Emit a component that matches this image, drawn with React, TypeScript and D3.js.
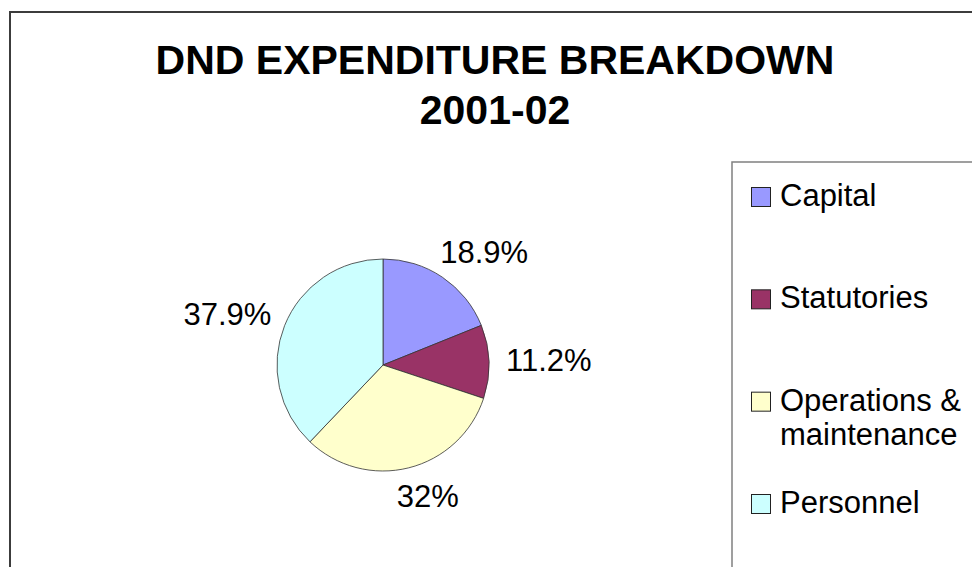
import React, { useEffect, useRef } from "react"
import * as d3 from "d3"

const categories = ["Capital", "Statutories", "Operations & maintenance", "Personnel"]
const legendLines = [["Capital"], ["Statutories"], ["Operations &", "maintenance"], ["Personnel"]]
const shares = [18.9, 11.2, 32, 37.9]
const shareLabels = ["18.9%", "11.2%", "32%", "37.9%"]
const colors = ["#9999FF", "#993366", "#FFFFCC", "#CCFFFF"]
const titleLines = ["DND EXPENDITURE BREAKDOWN", "2001-02"]

const FONT = "'Liberation Sans', Arial, sans-serif"

// rough Arial advance widths, to push labels out of the pie like Excel does
const charW = (c: string) => (c === "%" ? 0.889 : c === "." ? 0.278 : 0.556)
const textWidth = (s: string, size: number) =>
  s.split("").reduce((a, c) => a + charW(c), 0) * size

export default function App() {
  const ref = useRef<SVGSVGElement>(null)

  useEffect(() => {
    const svg = d3.select(ref.current)
    svg.selectAll("*").remove()
    const width = 972
    const height = 567

    svg.append("rect")
      .attr("width", width).attr("height", height)
      .attr("fill", "#fff")

    // chart area border (runs off the picture right and bottom)
    svg.append("rect")
      .attr("x", 10).attr("y", 12)
      .attr("width", 1000).attr("height", 600)
      .attr("fill", "none")
      .attr("stroke", "#3c3c3c")
      .attr("stroke-width", 2)

    const title = svg.append("text")
      .attr("text-anchor", "middle")
      .attr("font-family", FONT)
      .attr("font-weight", "bold")
      .attr("font-size", 41)
    titleLines.forEach((t, i) => {
      title.append("tspan")
        .attr("x", 495)
        .attr("y", 74 + i * 50)
        .text(t)
    })

    const cx = 383
    const cy = 365
    const radius = 106
    const labelSize = 31

    const pie = d3.pie<number>().sort(null).value(d => d)
    const arcs = pie(shares)
    const arc = d3.arc<d3.PieArcDatum<number>>().innerRadius(0).outerRadius(radius)

    const g = svg.append("g").attr("transform", `translate(${cx},${cy})`)
    g.selectAll("path")
      .data(arcs)
      .enter()
      .append("path")
      .attr("d", arc)
      .attr("fill", (d, i) => colors[i])
      .attr("stroke", "#333")
      .attr("stroke-width", 0.8)

    const labelR = 122
    g.selectAll("text.pct")
      .data(arcs)
      .enter()
      .append("text")
      .attr("class", "pct")
      .attr("font-family", FONT)
      .attr("font-size", labelSize)
      .attr("text-anchor", "middle")
      .attr("dominant-baseline", "central")
      .attr("x", (d, i) => {
        const s = Math.sin((d.startAngle + d.endAngle) / 2)
        const push = Math.sign(s) * Math.sqrt(Math.abs(s))
        return s * labelR + push * textWidth(shareLabels[i], labelSize) / 2
      })
      .attr("y", (d) => {
        const c = Math.cos((d.startAngle + d.endAngle) / 2)
        return -c * labelR - c * 14
      })
      .text((d, i) => shareLabels[i])

    // legend
    svg.append("rect")
      .attr("x", 732).attr("y", 162)
      .attr("width", 400).attr("height", 600)
      .attr("fill", "none")
      .attr("stroke", "#808080")
      .attr("stroke-width", 1.5)

    const ly = d3.scalePoint<string>().domain(categories).range([187, 494])
    const sw = 20
    categories.forEach((c, i) => {
      const y0 = ly(c) as number
      svg.append("rect")
        .attr("x", 751.5).attr("y", y0 + 0.5)
        .attr("width", sw - 1).attr("height", sw - 1)
        .attr("fill", colors[i])
        .attr("stroke", "#222")
        .attr("stroke-width", 1)
      const t = svg.append("text")
        .attr("font-family", FONT)
        .attr("font-size", labelSize)
      legendLines[i].forEach((line, j) => {
        t.append("tspan")
          .attr("x", 780)
          .attr("y", y0 + sw - 1 + j * 34)
          .text(line)
      })
    })
  }, [])

  return (
    <svg
      ref={ref}
      width={972}
      height={567}
      style={{ position: "absolute", left: 0, top: 0 }}
    />
  )
}
